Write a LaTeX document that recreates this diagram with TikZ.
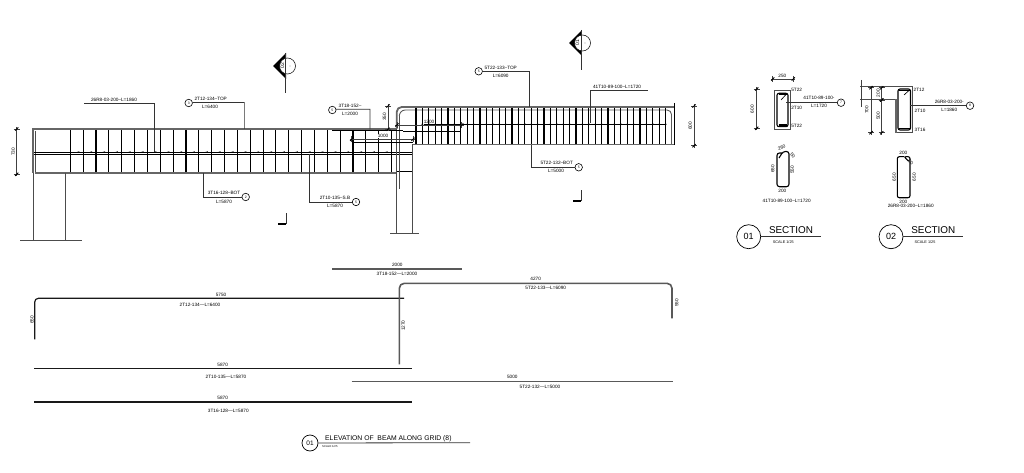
\documentclass[tikz,border=0pt]{standalone}
\usepackage{fontspec}
\setmainfont{Liberation Sans}
\newcommand{\tinyf}{\fontsize{4.7}{5}\selectfont}
\newcommand{\dimV}[3]{\draw[dimln] (#1,#2-2)--(#1,#3+2);
 \draw[dimln] (#1-3,#2)--(#1+3,#2) (#1-3,#3)--(#1+3,#3);
 \draw[tick] (#1-1.6,#2+1.6)--(#1+1.6,#2-1.6) (#1-1.6,#3+1.6)--(#1+1.6,#3-1.6);}
\newcommand{\dimH}[3]{\draw[dimln] (#2-2,#1)--(#3+2,#1);
 \draw[dimln] (#2,#1-3)--(#2,#1+3) (#3,#1-3)--(#3,#1+3);
 \draw[tick] (#2-1.6,#1+1.6)--(#2+1.6,#1-1.6) (#3-1.6,#1+1.6)--(#3+1.6,#1-1.6);}
\tikzset{
 lbl/.style={inner sep=0pt,font=\tinyf,text=black},
 rlbl/.style={lbl,rotate=90},
 tag/.style={circle,draw=black,line width=.6pt,minimum size=7.5pt,inner sep=0pt,font=\fontsize{3.4}{4}\selectfont},
 leader/.style={draw=black!80,line width=.6pt},
 dimln/.style={draw=black!75,line width=.5pt},
 tick/.style={draw=black,line width=.9pt},
 conc/.style={draw=black!70,line width=.8pt},
 concthick/.style={draw=black!60,line width=1.8pt},
 link/.style={draw=black,line width=1.1pt},
 thinlink/.style={draw=black,line width=.65pt},
 mainbar/.style={draw=black!65,line width=1.6pt},
 darkbar/.style={draw=black!90,line width=1.2pt},
 sectmark/.style={draw=black!80,line width=.7pt},
 bigtag/.style={circle,draw=black,line width=.7pt,inner sep=0pt},
 markdisc/.style={circle,draw=black,fill=white,line width=.5pt,minimum size=16pt,inner sep=0pt},
 titleln/.style={draw=black!80,line width=.8pt},
}
\begin{document}
\begin{tikzpicture}[x=1pt,y=-1pt]
\useasboundingbox (0,0) rectangle (1024,473);
% ---------- lower beam and columns
\draw[concthick] (33,172.7)--(33,129)--(397,129);
\draw[concthick] (35,172.7)--(397,172.7);
\draw[conc] (33,172.7)--(33,240) (65,172.7)--(65,240) (20,240)--(82,240);
\draw[conc] (35,131)--(35,172);
\draw[thinlink] (34,152)--(411.7,152) (34,154)--(411.7,154);
\draw[thinlink] (397,171.7)--(411.7,171.7);
\foreach \i in {0,...,25}{
 \draw[link] ({70.3+\i*12.85},130)--({70.3+\i*12.85},172);
 \ifnum\i<25\fill[black] ({70.3+\i*12.85+4},152.8)--({70.3+\i*12.85+9},151.3)--({70.3+\i*12.85+9},153)--cycle;\fi
}
% ---------- junction column
\draw[conc] (396.7,129)--(396.7,233) (412.7,144.3)--(412.7,233) (390,233)--(419,233);
\draw[draw=black!70,line width=1.1pt] (399.3,116) -- (399.3,189);
% ---------- upper beam
\draw[concthick] (396.7,129)--(396.7,112) arc[start angle=180,end angle=270,radius=5]--(674,107);
\draw[concthick] (412.7,144.5)--(674,144.5);
\draw[draw=black,line width=1pt] (674,103)--(674,145.5);
\draw[mainbar,line width=.9pt] (399.3,116) arc[start angle=180,end angle=270,radius=6]--(667,110) arc[start angle=-90,end angle=0,radius=4.5]--(671.5,144);
\foreach \i in {0,...,39}{
 \draw[link] ({416+\i*6.4},108)--({416+\i*6.4},144);
 \fill[black] ({416+\i*6.4},124.3) circle[radius=1];
}
\draw[thinlink] (424,124.3)--(665,124.3);
% ---------- top extra bar and dims
\draw[draw=black,line width=1.6pt] (332,130.5)--(403,130.5);
\draw[thinlink] (403,131.5)--(461,131.5) (351.7,142.5)--(413,142.5);
\dimH{139.3}{351.7}{413}
\dimH{125}{397}{461.7}
\dimV{388}{106}{129.3}
\node[lbl,fill=white,inner sep=.3pt] at (383,135.7) {1000};
\node[lbl] at (429,122) {1200};
\node[rlbl] at (384.5,117) {350};
\dimV{16.7}{129}{174.3}
\node[rlbl] at (13.3,151.7) {730};
\dimV{694}{106}{145.7}
\node[rlbl] at (690.3,126) {600};
% ---------- section marks
\fill[black] (273,66)--(286,53)--(286,79)--cycle;
\node[markdisc] (m2) at (287.5,66) {};
\draw[sectmark] (285.8,53)--(285.8,93);
\fill (290,66) circle[radius=.35];
\node[lbl,rotate=90,font=\fontsize{5}{6}\selectfont] at (282.3,66) {02};
\fill[black] (569,43)--(581,31)--(581,55)--cycle;
\node[markdisc] (m1) at (582.5,43) {};
\draw[sectmark] (581,30)--(581,70);
\fill (585,43) circle[radius=.35];
\node[lbl,rotate=90,font=\fontsize{5}{6}\selectfont] at (577.3,43) {01};
\draw[sectmark] (286,213)--(286,224);
\draw[draw=black,line width=1.5pt] (286.2,224)--(278,224);
\draw[sectmark] (581,190)--(581,201);
\draw[draw=black,line width=1.5pt] (581.2,201)--(573,201);
% ---------- leaders
\coordinate (a1) at (84,103.3);
\draw[leader] (a1)-|(154.3,152);
\node[lbl] at (114,100) {26R8-03-200--L=1860};
\node[tag] (t1) at (188.7,103) {3};
\draw[leader] (t1)--(193,102.5)-|(244.3,129);
\node[lbl] at (210.7,99) {2T12-134--TOP};
\node[lbl] at (210,107.3) {L=6400};
\node[tag] (t2) at (245.7,197) {2};
\draw[leader] (t2)-|(203,172.7);
\node[lbl] at (224,193.3) {3T16-128--BOT};
\node[lbl] at (224,201.7) {L=5870};
\node[tag] (t3) at (356,202) {5};
\draw[leader] (t3)-|(309.3,154);
\node[lbl] at (335,197.7) {2T10-135--S.B};
\node[lbl] at (335,205.7) {L=5870};
\node[tag] (t4) at (332.3,110) {5};
\draw[leader] (t4)--(336,109.3)-|(370,129.3);
\node[lbl] at (350,105.7) {3T18-152--};
\node[lbl] at (350,114) {L=2000};
\node[tag] (t5) at (478.7,71.3) {5};
\draw[leader] (t5)-|(529,107);
\node[lbl] at (500.7,67.7) {5T22-133--TOP};
\node[lbl] at (500.7,75.7) {L=6090};
\coordinate (a2) at (647.7,90.7);
\draw[leader] (a2)-|(590.3,123);
\node[lbl] at (617,87.3) {41T10-89-100--L=1720};
\node[tag] (t6) at (578.7,167.3) {5};
\draw[leader] (t6)-|(531,145);
\node[lbl] at (556.7,163.3) {5T22-132--BOT};
\node[lbl] at (556,171.3) {L=5000};
% ---------- section 01
\draw[conc] (774,90) rectangle (790.7,129.3);
\draw[link,rounded corners=2pt] (777,93.3) rectangle (788,126.7);
\draw[draw=black,line width=1.6pt] (778.5,94.7)--(786.5,94.7) (778.5,125.3)--(786.5,125.3);
\draw[thinlink] (781,100)--(786,94.5);
\dimH{79}{772.7}{793.3}
\node[lbl] at (782.3,75.7) {250};
\dimV{756.7}{89}{128.3}
\node[rlbl] at (752.3,109.3) {600};
\node[lbl] at (796.7,90) {5T22};
\node[lbl] at (796.7,108.3) {2T10};
\node[lbl] at (796.7,126) {5T22};
\node[tag] (t7) at (841,102.7) {7};
\draw[leader] (t7)--(786,102.7);
\node[lbl] at (819,98.3) {41T10-89-100-};
\node[lbl] at (819,105.7) {L=1720};
\draw[link,rounded corners=2.5pt] (783,153)--(777,153)--(777,186.7)--(789,186.7)--(789,151.5)--(783,151.5)--(779,158);
\node[lbl,rotate=20] at (781.7,147.3) {260};
\node[lbl,rotate=-50] at (792.7,155) {50};
\node[rlbl] at (792.3,170) {550};
\node[rlbl] at (772.7,169) {650};
\node[lbl] at (782.3,191) {200};
\node[lbl] at (786.7,200.7) {41T10-89-100--L=1720};
\node[bigtag,minimum size=24pt,font=\fontsize{9}{10}\selectfont] (s1) at (748.7,236.7) {01};
\draw[titleln] (s1)--(821,236.7);
\node[inner sep=0pt,font=\fontsize{9.9}{11}\selectfont] at (791,230.3) {SECTION};
\node[lbl,font=\fontsize{3.8}{4}\selectfont] at (783.3,241.7) {SCALE 1/25};
% ---------- section 02
\draw[conc] (860,86.7)--(912.7,86.7)--(912.7,132.7)--(896,132.7)--(896,99.3)--(860,99.3);
\draw[concthick,line width=1.2pt] (896,99.3)--(896,132.7);
\draw[link,rounded corners=2pt] (898,89)rectangle(910.5,130);
\draw[draw=black,line width=1.4pt] (899,90.5)--(909.5,90.5) (899,128.7)--(909.5,128.7);
\draw[thinlink] (904,95)--(909.5,90);
\draw[dimln] (861,80)--(861,107);
\dimV{871}{87.7}{132.7}
\dimV{881.7}{87.7}{100}
\dimV{881.7}{100}{132.7}
\node[rlbl] at (878.3,93.3) {200};
\node[rlbl] at (878.3,115.7) {500};
\node[rlbl] at (866.7,110) {700};
\node[lbl] at (919,90) {2T12};
\node[lbl] at (920,110.7) {2T10};
\node[lbl] at (920,130) {3T16};
\node[tag] (t8) at (970,105.7) {8};
\draw[leader] (t8)--(910,105.7);
\node[lbl] at (949.3,101.7) {26R8-03-200-};
\node[lbl] at (949.3,110) {L=1860};
\draw[link,rounded corners=2pt] (904,156.7)--(897.3,156.7)--(897.3,197.7)--(910,197.7)--(910,156.7)--(904,156.7)--(908.5,161);
\node[lbl] at (903.3,153.3) {200};
\node[lbl,rotate=-45] at (910.7,162) {50};
\node[rlbl] at (914.3,177.3) {650};
\node[rlbl] at (894.3,177.3) {650};
\node[lbl] at (903.3,201.7) {200};
\node[lbl] at (910.7,206) {26R8-03-200--L=1860};
\node[bigtag,minimum size=24pt,font=\fontsize{9}{10}\selectfont] (s2) at (891,236.7) {02};
\draw[titleln] (s2)--(963.3,236.7);
\node[inner sep=0pt,font=\fontsize{9.9}{11}\selectfont] at (933.3,230.3) {SECTION};
\node[lbl,font=\fontsize{3.8}{4}\selectfont] at (925,241.7) {SCALE 1/25};
% ---------- bar schedule
\draw[mainbar] (332.3,268.7)--(461.7,268.7);
\node[lbl] at (397.3,265) {2000};
\node[lbl] at (397,273.7) {3T18-152---L=2000};
\draw[darkbar] (34.7,339.3)--(34.7,302) arc[start angle=180,end angle=270,radius=3.7]--(404,298.3);
\node[lbl] at (221,295) {5750};
\node[lbl] at (200,304.7) {2T12-134---L=6400};
\node[rlbl] at (32,320) {650};
\draw[mainbar] (399.3,364.3)--(399.3,288.3) arc[start angle=180,end angle=270,radius=5]--(667,283.3) arc[start angle=-90,end angle=0,radius=5]--(672,318.3);
\node[lbl] at (535.7,279.3) {4270};
\node[lbl] at (545.7,288) {5T22-133---L=6090};
\node[rlbl] at (676.7,302.7) {550};
\node[rlbl] at (403.3,325.7) {1270};
\draw[darkbar] (34,368.7)--(411.7,368.7);
\node[lbl] at (222.7,364.7) {5870};
\node[lbl] at (226,377.3) {2T10-135---L=5870};
\draw[mainbar] (351.7,381.3)--(672.7,381.3);
\node[lbl] at (512.3,377.3) {5000};
\node[lbl] at (540,387) {5T22-132---L=5000};
\draw[darkbar] (34,402)--(411.7,402);
\node[lbl] at (222.7,398) {5870};
\node[lbl] at (228.3,411) {3T16-128---L=5870};
% ---------- title
\node[bigtag,minimum size=16pt,font=\fontsize{6.5}{7}\selectfont] (s3) at (310,443) {01};
\draw[titleln] (s3)--(470,442.7);
\node[inner sep=0pt,anchor=west,font=\fontsize{6.8}{8}\selectfont] at (325,438.7) {ELEVATION OF\ \ BEAM ALONG GRID (8)};
\node[lbl,anchor=west,font=\fontsize{2.8}{3}\selectfont] at (322,446.2) {SCALE 1/25};
\end{tikzpicture}
\end{document}
